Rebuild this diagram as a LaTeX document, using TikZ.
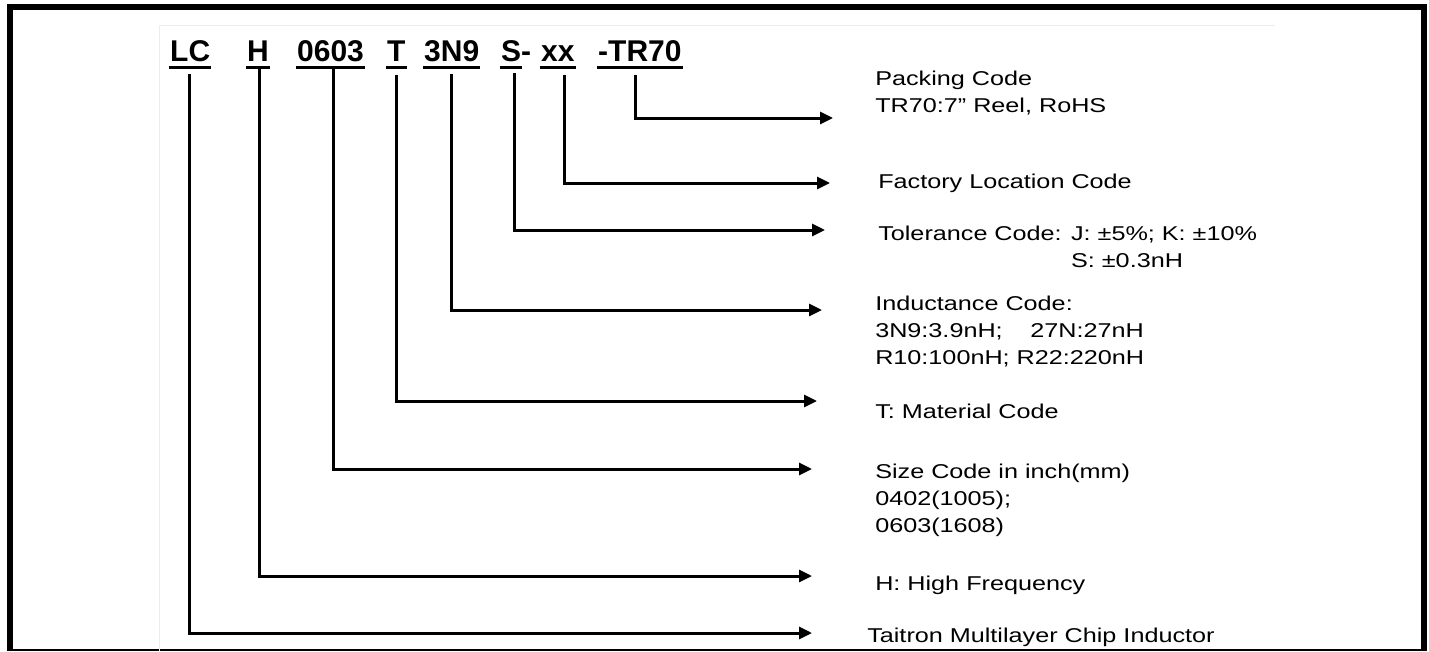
\documentclass[tikz,border=0pt]{standalone}
\usepackage{fontspec}
\setmainfont{Liberation Sans}
\usetikzlibrary{arrows.meta}

\begin{document}
\begin{tikzpicture}[x=1pt,y=-1pt,
    code/.style={font=\fontsize{30}{36}\selectfont\bfseries,anchor=base west,inner xsep=1pt,inner ysep=0pt},
    desc/.style={font=\fontsize{20}{27}\selectfont,anchor=base west,inner sep=0pt,align=left,xscale=1.26,transform shape},
    uline/.style={line width=3pt},
    conn/.style={draw,line width=3pt,-{Triangle[length=13pt,width=12pt]}}]
    \useasboundingbox (0,0) rectangle (1429,651);
    % frame and faint sheet border
    \draw[line width=6pt] (9.5,651) -- (9.5,7) -- (1424,7) -- (1424,651);
    \draw[line width=1.5pt] (9.5,650) -- (1424,650);
    \draw[black!7,line width=1pt] (159,651) -- (159,25) -- (1275,25);
    % part number
    \node[code] (lc) at (169,61) {LC};
    \node[code] (h) at (246,61) {H};
    \node[code] (sz) at (296,61) {0603};
    \node[code] (t) at (386,61) {T};
    \node[code] (ind) at (423,61) {3N9};
    \node[code] (tol) at (500,61) {S\rlap{-}};
    \node[code] (xx) at (540,61) {xx};
    \node[code] (tr) at (597,61) {-TR70};
    \foreach \n in {lc,h,sz,t,ind,tol,xx,tr}
      \draw[uline] ([yshift=-6pt]\n.base west) -- ([yshift=-6pt]\n.base east);
    % descriptions (base = last line)
    \node[desc] (dpk) at (875,112) {Packing Code\\TR70:7” Reel, RoHS};
    \node[desc] (dfl) at (878,188) {Factory Location Code};
    \node[desc] (dtl) at (878,267) {Tolerance Code: J: ±5\%; K: ±10\%\\\phantom{Tolerance Code: }S: ±0.3nH};
    \node[desc] (dic) at (875,364) {Inductance Code:\\3N9:3.9nH;\hspace{22pt}27N:27nH\\R10:100nH; R22:220nH};
    \node[desc] (dmc) at (875,418) {T: Material Code};
    \node[desc] (dsc) at (875,532) {Size Code in inch(mm)\\0402(1005);\\0603(1608)};
    \node[desc] (dhf) at (875,590) {H: High Frequency};
    \node[desc] (dtc) at (867,642) {Taitron Multilayer Chip Inductor};
    % arrow tips
    \coordinate (pkend) at (833,118);
    \coordinate (flend) at (830,183);
    \coordinate (tlend) at (825,230);
    \coordinate (icend) at (822,310);
    \coordinate (mcend) at (817,401);
    \coordinate (scend) at (812,469);
    \coordinate (hfend) at (812,576);
    \coordinate (tcend) at (812,633);
    % connectors
    \draw[conn] ([xshift=-4pt,yshift=-14pt]tr.base) |- (pkend);
    \draw[conn] ([xshift=7pt,yshift=-14pt]xx.base) |- (flend);
    \draw[conn] ([xshift=3pt,yshift=-12pt]tol.base) |- (tlend);
    \draw[conn] ([yshift=-13pt]ind.base) |- (icend);
    \draw[conn] ([yshift=-14pt]t.base) |- (mcend);
    \draw[conn] ([xshift=3pt,yshift=-6pt]sz.base) |- (scend);
    \draw[conn] ([xshift=1pt,yshift=-6pt]h.base) |- (hfend);
    \draw[conn] ([xshift=-1pt,yshift=-13pt]lc.base) |- (tcend);
  \end{tikzpicture}
\end{document}
